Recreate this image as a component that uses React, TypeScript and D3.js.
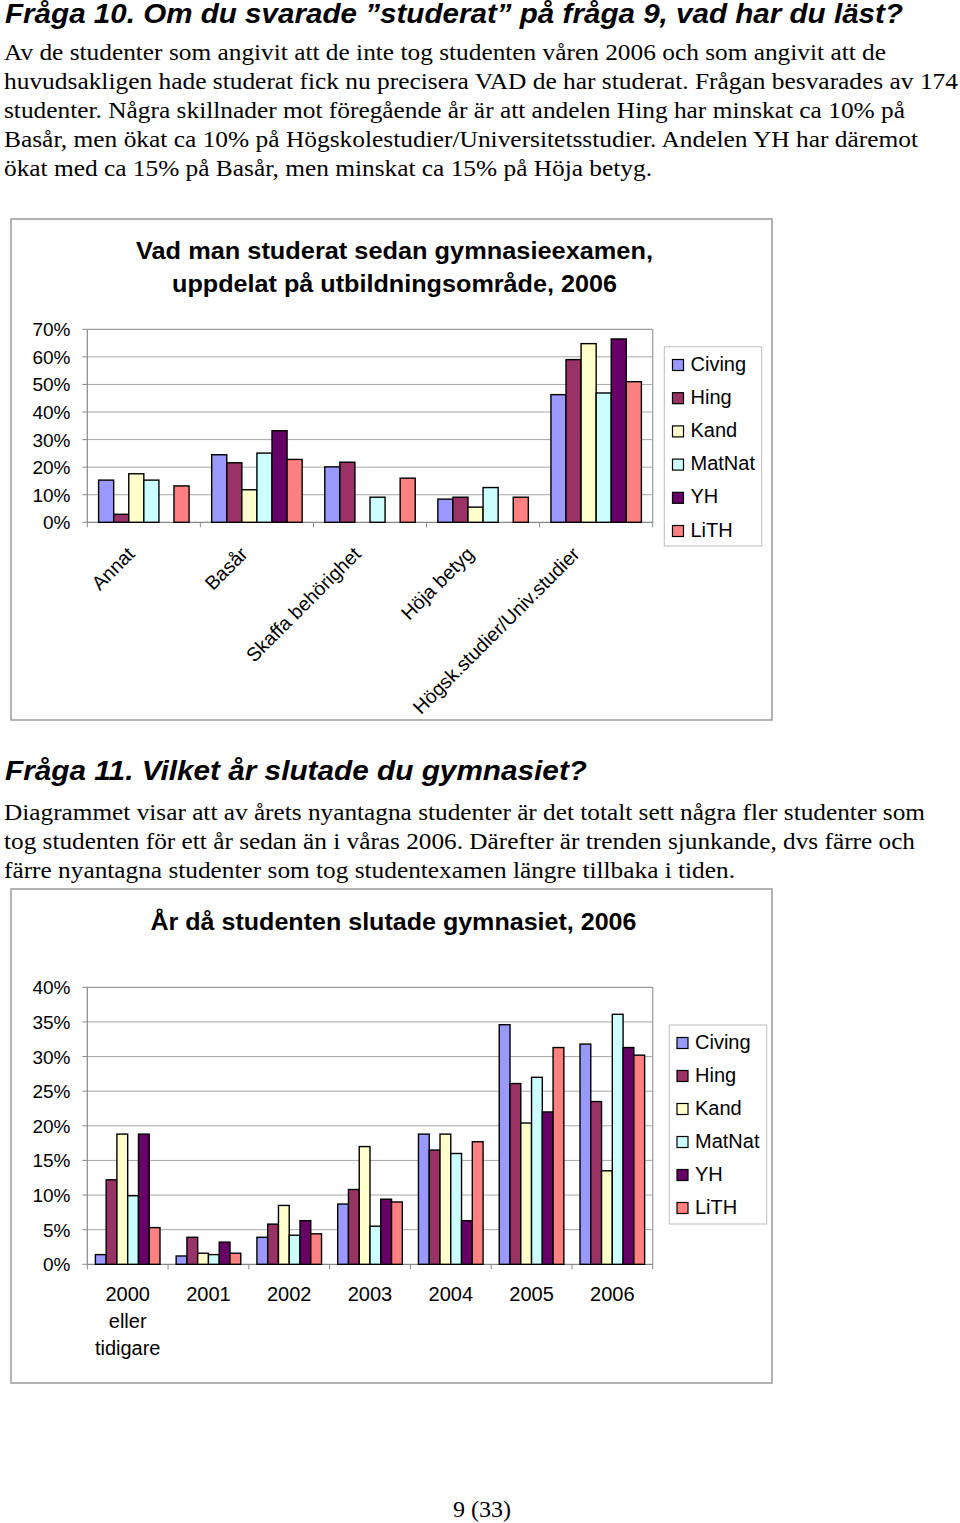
import React from "react";
import * as d3 from "d3";

const seriesNames = ["Civing", "Hing", "Kand", "MatNat", "YH", "LiTH"];
const seriesColors = ["#9999FF", "#993366", "#FFFFCC", "#CCFFFF", "#660066", "#FF8080"];

const categories1 = ["Annat", "Basår", "Skaffa behörighet", "Höja betyg", "Högsk.studier/Univ.studier"];
const civing1 = [15.3, 24.5, 20.1, 8.4, 46.3];
const hing1 = [2.9, 21.6, 21.8, 9.1, 59.0];
const kand1 = [17.6, 11.8, 0, 5.5, 64.8];
const matnat1 = [15.3, 25.1, 9.1, 12.6, 46.9];
const yh1 = [0, 33.2, 0, 0, 66.5];
const lith1 = [13.2, 22.8, 16.0, 9.1, 51.0];
const yTicks1 = [0, 10, 20, 30, 40, 50, 60, 70];

const categories2 = ["2000|eller|tidigare", "2001", "2002", "2003", "2004", "2005", "2006"];
const civing2 = [1.4, 1.2, 3.9, 8.7, 18.8, 34.6, 31.8];
const hing2 = [12.2, 3.9, 5.8, 10.8, 16.5, 26.1, 23.5];
const kand2 = [18.8, 1.6, 8.5, 17.0, 18.8, 20.4, 13.5];
const matnat2 = [9.9, 1.4, 4.2, 5.5, 16.0, 27.0, 36.1];
const yh2 = [18.8, 3.2, 6.3, 9.4, 6.3, 22.0, 31.3];
const lith2 = [5.3, 1.6, 4.4, 9.0, 17.7, 31.3, 30.2];
const yTicks2 = [0, 5, 10, 15, 20, 25, 30, 35, 40];

const heading1 = "Fråga 10. Om du svarade ”studerat” på fråga 9, vad har du läst?";
const para1 = [
  "Av de studenter som angivit att de inte tog studenten våren 2006 och som angivit att de",
  "huvudsakligen hade studerat fick nu precisera VAD de har studerat. Frågan besvarades av 174",
  "studenter. Några skillnader mot föregående år är att andelen Hing har minskat ca 10% på",
  "Basår, men ökat ca 10% på Högskolestudier/Universitetsstudier. Andelen YH har däremot",
  "ökat med ca 15% på Basår, men minskat ca 15% på Höja betyg.",
];
const title1 = ["Vad man studerat sedan gymnasieexamen,", "uppdelat på utbildningsområde, 2006"];
const heading2 = "Fråga 11. Vilket år slutade du gymnasiet?";
const para2 = [
  "Diagrammet visar att av årets nyantagna studenter är det totalt sett några fler studenter som",
  "tog studenten för ett år sedan än i våras 2006. Därefter är trenden sjunkande, dvs färre och",
  "färre nyantagna studenter som tog studentexamen längre tillbaka i tiden.",
];
const title2 = "År då studenten slutade gymnasiet, 2006";
const footer = "9 (33)";

// layout: rendered text widths measured on the reference page
const para1Widths = [882, 954, 901, 914, 648];
const para2Widths = [921, 911, 731];
const title1Widths = [517, 445];

const SANS = "'Liberation Sans', Arial, sans-serif";
const SERIF = "'Liberation Serif', 'Times New Roman', serif";

type ChartProps = {
  frame: [number, number, number, number];
  plot: [number, number, number, number];
  categories: string[];
  data: number[][];
  yMax: number;
  ticks: number[];
  rotated: boolean;
  legendBox: [number, number, number, number];
  legendSwatchX: number;
  legendFirstY: number;
  legendStep: number;
};

function BarChart(p: ChartProps) {
  const [px0, py0, px1, py1] = p.plot;
  const x0 = d3.scaleBand<string>().domain(p.categories).range([px0, px1]).paddingInner(0).paddingOuter(0);
  const x1 = d3
    .scaleBand<string>()
    .domain(seriesNames)
    .range([0, x0.bandwidth()])
    .paddingInner(0)
    .paddingOuter(0.75);
  const y = d3.scaleLinear().domain([0, p.yMax]).range([py1, py0]);
  const [fx0, fy0, fx1, fy1] = p.frame;
  const [lx0, ly0, lx1, ly1] = p.legendBox;
  return (
    <g>
      <rect x={fx0} y={fy0} width={fx1 - fx0} height={fy1 - fy0} fill="white" stroke="#9a9a9a" strokeWidth={1.5} />
      {p.ticks.map((t) => (
        <g key={"g" + t}>
          {t > 0 && t < p.yMax && <line x1={px0} x2={px1} y1={y(t)} y2={y(t)} stroke="#a6a6a6" strokeWidth={1} />}
          <line x1={px0 - 5} x2={px0} y1={y(t)} y2={y(t)} stroke="#888" strokeWidth={1} />
          <text x={70.5} y={y(t) + 7} textAnchor="end" fontFamily={SANS} fontSize={19} fill="#000">
            {t + "%"}
          </text>
        </g>
      ))}
      <line x1={px0} x2={px1} y1={py0} y2={py0} stroke="#999" strokeWidth={1.2} />
      <line x1={px1} x2={px1} y1={py0} y2={py1} stroke="#999" strokeWidth={1.2} />
      <line x1={px0} x2={px0} y1={py0} y2={py1} stroke="#888" strokeWidth={1.2} />
      <line x1={px0} x2={px1} y1={py1} y2={py1} stroke="#888" strokeWidth={1.2} />
      {p.categories.map((c, i) => (
        <line key={"ct" + i} x1={x0(c)!} x2={x0(c)!} y1={py1} y2={py1 + 5} stroke="#888" strokeWidth={1} />
      ))}
      <line x1={px1} x2={px1} y1={py1} y2={py1 + 5} stroke="#888" strokeWidth={1} />
      {p.categories.map((c, ci) =>
        seriesNames.map((s, si) => {
          const v = p.data[si][ci];
          if (!v) return null;
          return (
            <rect
              key={c + s}
              x={x0(c)! + x1(s)!}
              y={y(v)}
              width={x1.bandwidth()}
              height={py1 - y(v)}
              fill={seriesColors[si]}
              stroke="#000"
              strokeWidth={1.4}
            />
          );
        })
      )}
      {p.categories.map((c, i) => {
        const cx = x0(c)! + x0.bandwidth() / 2;
        if (p.rotated) {
          const ax = cx - 8 - Math.max(0, c.length - 18) * 0.9;
          const ay = py1 + 33;
          return (
            <text
              key={"cl" + i}
              x={ax}
              y={ay}
              textAnchor="end"
              transform={`rotate(-45 ${ax} ${ay})`}
              fontFamily={SANS}
              fontSize={19.5}
              fill="#000"
            >
              {c}
            </text>
          );
        }
        return (
          <text key={"cl" + i} textAnchor="middle" fontFamily={SANS} fontSize={20} fill="#000">
            {c.split("|").map((line, li) => (
              <tspan key={li} x={cx} y={py1 + 37 + li * 27}>
                {line}
              </tspan>
            ))}
          </text>
        );
      })}
      <rect x={lx0} y={ly0} width={lx1 - lx0} height={ly1 - ly0} fill="white" stroke="#bdbdbd" strokeWidth={1} />
      {seriesNames.map((s, i) => {
        const cy = p.legendFirstY + i * p.legendStep;
        return (
          <g key={"lg" + s}>
            <rect x={p.legendSwatchX} y={cy - 5.5} width={11} height={11} fill={seriesColors[i]} stroke="#000" strokeWidth={1.2} />
            <text x={p.legendSwatchX + 18} y={cy + 5.5} fontFamily={SANS} fontSize={20} fill="#000">
              {s}
            </text>
          </g>
        );
      })}
    </g>
  );
}

export default function App() {
  const data1 = [civing1, hing1, kand1, matnat1, yh1, lith1];
  const data2 = [civing2, hing2, kand2, matnat2, yh2, lith2];
  const adj = "spacingAndGlyphs";
  return (
    <svg
      width={960}
      height={1523}
      viewBox="0 0 960 1523"
      style={{ position: "absolute", left: 0, top: 0, background: "#fff" }}
    >
      <rect x={0} y={0} width={960} height={1523} fill="#fff" />
      <text x={5} y={23} fontFamily={SANS} fontWeight="bold" fontStyle="italic" fontSize={27} fill="#000" textLength={898} lengthAdjust={adj}>
        {heading1}
      </text>
      {para1.map((l, i) => (
        <text key={"p1" + i} x={4} y={60 + i * 29} fontFamily={SERIF} fontSize={24} fill="#000" textLength={para1Widths[i]} lengthAdjust={adj}>
          {l}
        </text>
      ))}
      <BarChart
        frame={[11, 219, 772, 720]}
        plot={[87.3, 329.3, 652.7, 522.3]}
        categories={categories1}
        data={data1}
        yMax={70}
        ticks={yTicks1}
        rotated={true}
        legendBox={[664.3, 346.7, 761.7, 546]}
        legendSwatchX={672.5}
        legendFirstY={365}
        legendStep={33.2}
      />
      {title1.map((t, i) => (
        <text
          key={"t1" + i}
          x={394.5}
          y={259 + i * 33}
          textAnchor="middle"
          fontFamily={SANS}
          fontWeight="bold"
          fontSize={23}
          fill="#000"
          textLength={title1Widths[i]}
          lengthAdjust={adj}
        >
          {t}
        </text>
      ))}
      <text x={5} y={780} fontFamily={SANS} fontWeight="bold" fontStyle="italic" fontSize={27} fill="#000" textLength={582} lengthAdjust={adj}>
        {heading2}
      </text>
      {para2.map((l, i) => (
        <text key={"p2" + i} x={4} y={820 + i * 29} fontFamily={SERIF} fontSize={24} fill="#000" textLength={para2Widths[i]} lengthAdjust={adj}>
          {l}
        </text>
      ))}
      <BarChart
        frame={[11, 889, 772, 1383]}
        plot={[87.3, 987.3, 652.7, 1264.3]}
        categories={categories2}
        data={data2}
        yMax={40}
        ticks={yTicks2}
        rotated={false}
        legendBox={[669.3, 1025, 766.7, 1224]}
        legendSwatchX={677}
        legendFirstY={1043}
        legendStep={33}
      />
      <text
        x={393.5}
        y={930}
        textAnchor="middle"
        fontFamily={SANS}
        fontWeight="bold"
        fontSize={23}
        fill="#000"
        textLength={486}
        lengthAdjust={adj}
      >
        {title2}
      </text>
      <text x={482} y={1517} textAnchor="middle" fontFamily={SERIF} fontSize={24} fill="#000">
        {footer}
      </text>
    </svg>
  );
}
